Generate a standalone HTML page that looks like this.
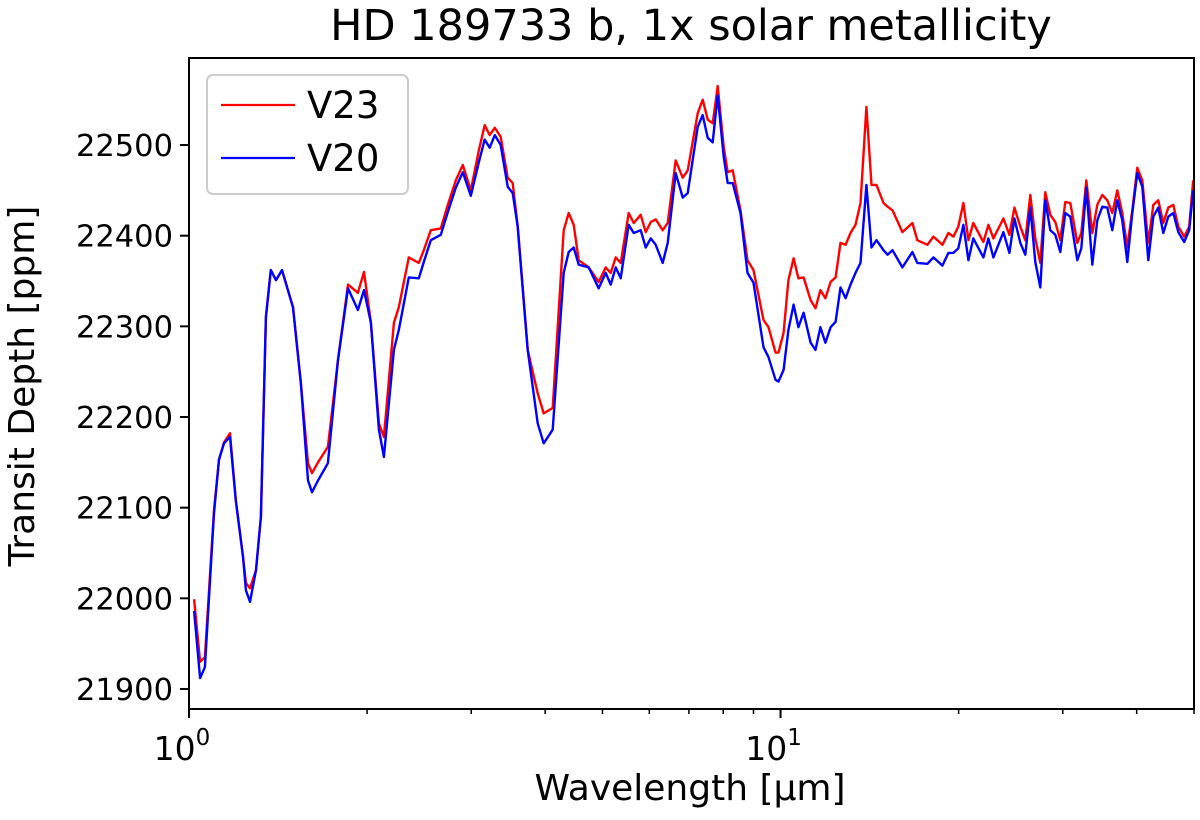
<!DOCTYPE html>
<html><head><meta charset="utf-8"><style>
body{margin:0;background:#fff;}
svg{display:block;font-family:"DejaVu Sans","Liberation Sans",sans-serif;}
</style></head><body>
<svg id="chart" width="1200" height="820" viewBox="0 0 1200 820">
<text x="691" y="40" font-size="43" text-anchor="middle" fill="#000">HD 189733 b, 1x solar metallicity</text>
<g id="plot"></g>
<g id="axes"></g>
<text x="690" y="800" font-size="36" text-anchor="middle">Wavelength [μm]</text>
<text transform="translate(34,386) rotate(-90)" font-size="36" text-anchor="middle">Transit Depth [ppm]</text>
<g>
<rect x="207" y="75" width="201" height="119" rx="6" fill="#fff" stroke="#ccc" stroke-width="2"/>
<line x1="221" y1="105" x2="295" y2="105" stroke="#ff0000" stroke-width="2.2"/>
<text x="307" y="118" font-size="37">V23</text>
<line x1="221" y1="158" x2="295" y2="158" stroke="#0000ff" stroke-width="2.2"/>
<text x="307" y="171" font-size="37">V20</text>
</g>
</svg>
<script>
const wavelengths=[1.020,1.044,1.064,1.102,1.124,1.146,1.173,1.200,1.234,1.248,1.268,1.298,1.323,1.349,1.375,1.403,1.436,1.499,1.546,1.589,1.614,1.652,1.717,1.786,1.857,1.930,1.976,2.030,2.094,2.135,2.220,2.263,2.353,2.446,2.494,2.563,2.665,2.738,2.825,2.903,2.995,3.090,3.162,3.224,3.288,3.365,3.458,3.526,3.595,3.738,3.886,3.978,4.120,4.300,4.384,4.470,4.558,4.739,4.927,5.063,5.163,5.264,5.367,5.537,5.646,5.802,5.916,6.032,6.151,6.320,6.445,6.649,6.832,6.966,7.244,7.386,7.531,7.679,7.830,8.014,8.140,8.300,8.557,8.793,9.000,9.357,9.542,9.807,9.923,10.12,10.31,10.52,10.72,10.94,11.24,11.46,11.68,11.91,12.15,12.39,12.63,12.88,13.13,13.39,13.65,13.97,14.25,14.53,14.93,15.17,15.46,16.07,16.71,17.03,17.71,18.13,18.78,19.22,19.60,19.98,20.38,20.78,21.18,22.03,22.46,22.90,23.81,24.37,24.85,25.43,25.93,26.44,26.96,27.49,28.03,28.58,29.14,29.71,30.30,30.89,31.74,32.24,32.88,33.65,34.31,34.99,35.68,36.38,37.09,37.82,38.56,39.32,40.10,40.88,41.85,42.67,43.51,44.37,45.24,46.13,47.03,48.12,49.07,49.84];
const v23=[21999,21930,21935,22097,22153,22172,22182,22108,22046,22017,22011,22031,22090,22310,22362,22351,22362,22321,22237,22149,22138,22150,22167,22263,22346,22337,22360,22304,22193,22178,22304,22321,22376,22370,22384,22406,22408,22434,22461,22478,22450,22494,22522,22511,22519,22509,22464,22458,22410,22274,22226,22204,22210,22406,22425,22412,22373,22365,22349,22365,22359,22376,22370,22425,22414,22423,22404,22415,22418,22406,22414,22483,22464,22472,22535,22550,22528,22524,22565,22498,22470,22472,22428,22373,22362,22307,22299,22271,22271,22293,22351,22375,22353,22354,22329,22320,22340,22331,22349,22354,22392,22390,22403,22412,22436,22542,22456,22456,22436,22432,22428,22404,22414,22395,22390,22399,22390,22403,22399,22410,22436,22395,22414,22393,22412,22397,22419,22401,22431,22410,22395,22445,22397,22370,22448,22423,22415,22395,22437,22436,22392,22403,22461,22403,22434,22445,22439,22425,22450,22425,22387,22428,22475,22461,22392,22434,22439,22414,22431,22434,22410,22399,22410,22461];
const v20=[21986,21912,21924,22094,22153,22171,22178,22108,22046,22009,21996,22031,22090,22310,22362,22351,22362,22321,22237,22130,22117,22130,22149,22263,22342,22318,22340,22304,22186,22156,22274,22296,22354,22353,22371,22395,22401,22426,22453,22470,22444,22481,22506,22497,22511,22500,22454,22447,22410,22274,22193,22171,22186,22359,22382,22387,22368,22365,22342,22359,22346,22365,22353,22412,22403,22406,22387,22397,22390,22370,22392,22469,22442,22447,22520,22533,22508,22503,22555,22487,22458,22458,22425,22359,22348,22277,22266,22241,22239,22252,22296,22324,22299,22315,22282,22274,22299,22282,22299,22305,22343,22331,22346,22359,22370,22456,22387,22395,22384,22379,22384,22365,22382,22370,22369,22376,22367,22381,22381,22386,22412,22373,22397,22376,22397,22376,22404,22381,22419,22392,22379,22431,22371,22343,22439,22406,22401,22382,22425,22421,22373,22386,22453,22368,22417,22432,22431,22406,22439,22417,22371,22425,22469,22454,22373,22421,22431,22403,22421,22425,22404,22393,22406,22450];
const yTicks=[21900,22000,22100,22200,22300,22400,22500];
const xMajor=[1,10];
const xMinor=[2,3,4,5,6,7,8,9,20,30,40,50];

const L=189,R=1194,T=58,B=709;
const xMin=1,xMax=50;
const yMin=21877.9,yMax=22596.0;
const NS='http://www.w3.org/2000/svg';
function xs(w){return L+(Math.log10(w)-Math.log10(xMin))/(Math.log10(xMax)-Math.log10(xMin))*(R-L);}
function ys(v){return B-(v-yMin)/(yMax-yMin)*(B-T);}
function mk(tag,attrs,parent){const e=document.createElementNS(NS,tag);for(const k in attrs)e.setAttribute(k,attrs[k]);parent.appendChild(e);return e;}
const plot=document.getElementById('plot');
const axes=document.getElementById('axes');
function series(vals,color,name){
  const d=vals.map((v,i)=>(i?'L':'M')+xs(wavelengths[i]).toFixed(1)+','+ys(v).toFixed(1)).join('');
  const p=mk('path',{d:d,fill:'none',stroke:color,'stroke-width':2.4,'stroke-linejoin':'round'},plot);
  
  
}
series(v23,'#ff0000','line-v23');
series(v20,'#0000ff','line-v20');
const frame=mk('rect',{x:L,y:T,width:R-L,height:B-T,fill:'none',stroke:'#000','stroke-width':2},axes);


yTicks.forEach(v=>{
  const y=ys(v);
  const t=mk('line',{x1:L-9,x2:L,y1:y,y2:y,stroke:'#000','stroke-width':2},axes);
  
  
  const tx=mk('text',{x:L-16,y:y+11,'font-size':30.5,'text-anchor':'end'},axes);
  tx.textContent=v;
  
  
});
xMajor.forEach(w=>{
  const x=xs(w);
  const t=mk('line',{x1:x,x2:x,y1:B,y2:B+9,stroke:'#000','stroke-width':2},axes);
  
  
  const tx=mk('text',{x:x-7,y:B+51,'font-size':33,'text-anchor':'middle'},axes);
  tx.textContent='10';
  
  
  const sp=mk('tspan',{dy:-15,'font-size':23},tx);
  sp.textContent=String(Math.round(Math.log10(w)));
});
xMinor.forEach(w=>{
  const x=xs(w);
  const t=mk('line',{x1:x,x2:x,y1:B,y2:B+5,stroke:'#000','stroke-width':1.5},axes);
  
  
});
</script>
</body></html>
